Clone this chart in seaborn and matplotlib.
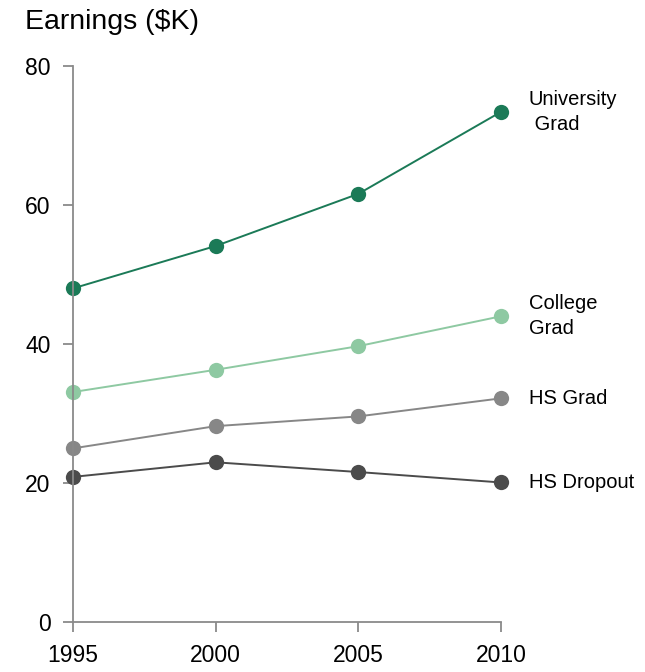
import matplotlib
matplotlib.use("Agg")
import matplotlib.pyplot as plt
import seaborn as sns
import pandas as pd

years = [1995, 2000, 2005, 2010]
university = [48.0, 54.1, 61.6, 73.4]
college = [33.1, 36.3, 39.7, 44.0]
hs_grad = [25.0, 28.2, 29.6, 32.2]
hs_dropout = [20.9, 23.0, 21.6, 20.1]

groups = ["University\n Grad", "College\nGrad", "HS Grad", "HS Dropout"]
colors = ["#1b7a57", "#8ec9a2", "#878787", "#4b4b4b"]

rows = []
for name, vals in zip(groups, [university, college, hs_grad, hs_dropout]):
    for y, v in zip(years, vals):
        rows.append({"year": y, "earnings": v, "group": name})
df = pd.DataFrame(rows)

sns.set_style("ticks")
plt.rcParams['font.family'] = ['Liberation Sans', 'DejaVu Sans']

fig = plt.figure(figsize=(6.45, 6.72), dpi=100)
ax = fig.add_axes([0.113, 0.074, 0.664, 0.828])

sns.lineplot(data=df, x="year", y="earnings", hue="group", palette=colors,
             marker="o", markersize=11, markeredgewidth=0, linewidth=1.4,
             legend=False, ax=ax, clip_on=False)

# labels at the right end of each line
for name, vals in zip(groups, [university, college, hs_grad, hs_dropout]):
    ax.annotate(name, xy=(years[-1], vals[-1]), xytext=(20, 0),
                textcoords="offset points", ha="left", va="center",
                fontsize=14.5, color="black", linespacing=1.4,
                annotation_clip=False)

ax.set_xlim(1995, 2010)
ax.set_ylim(0, 80)
ax.set_xticks(years)
ax.set_yticks([0, 20, 40, 60, 80])
ax.set_xlabel("")
ax.set_ylabel("")
ax.tick_params(axis="both", direction="out", length=7, width=1.3,
               color="#8a8a8a", labelcolor="black", labelsize=16.5)
ax.tick_params(axis="x", pad=9)
ax.tick_params(axis="y", pad=9)
for s in ["top", "right"]:
    ax.spines[s].set_visible(False)
for s in ["left", "bottom"]:
    ax.spines[s].set_color("#8a8a8a")
    ax.spines[s].set_linewidth(1.3)

fig.text(0.038, 0.968, "Earnings ($K)", fontsize=20.5, color="black",
         ha="left", va="center")

fig.savefig("out.png", dpi=100)
